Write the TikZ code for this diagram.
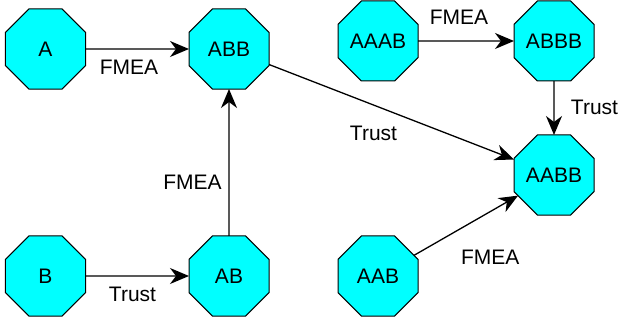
\documentclass[tikz,border=0pt]{standalone}
\usepackage{fontspec}
\setmainfont{Liberation Sans}
\usetikzlibrary{shapes.geometric,arrows.meta}

\definecolor{statefill}{RGB}{0,255,255}

\tikzset{
  state/.style={regular polygon, regular polygon sides=8, minimum size=86.6pt,
    inner sep=0pt, outer sep=0pt, draw=black, line width=1pt, fill=statefill,
    font=\fontsize{21}{25}\selectfont},
  link/.style={line width=1.3pt, -{Stealth[length=19pt, width=16pt, inset=6pt]}},
  lbl/.style={anchor=base, inner sep=0pt, font=\fontsize{21}{25}\selectfont}
}

\begin{document}
\begin{tikzpicture}[x=1pt, y=-1pt]
  \useasboundingbox (0,0) rectangle (620,320);

  % states
  \node[state] (A)    at (45.5,49)  {A};
  \node[state] (ABB)  at (229,49)   {ABB};
  \node[state] (AAAB) at (378,41)   {AAAB};
  \node[state] (ABBB) at (554,41)   {ABBB};
  \node[state] (AABB) at (554,175)  {AABB};
  \node[state] (B)    at (45.5,276) {B};
  \node[state] (AB)   at (229,276)  {AB};
  \node[state] (AAB)  at (378,276)  {AAB};

  % transitions
  \draw[link] (A) -- (ABB);
  \draw[link] (AAAB) -- (ABBB);
  \draw[link] (ABBB) -- (AABB);
  \draw[link] (ABB) -- (AABB);
  \draw[link] (AB) -- (ABB);
  \draw[link] (B) -- (AB);
  \draw[link] (AAB) -- (AABB);

  % transition labels
  \node[lbl] (l1) at (129,75)    {FMEA};
  \node[lbl] (l2) at (459,25)    {FMEA};
  \node[lbl] (l3) at (594.5,115) {Trust};
  \node[lbl] (l4) at (373.5,141) {Trust};
  \node[lbl] (l5) at (192.5,190) {FMEA};
  \node[lbl] (l6) at (132.5,301.5) {Trust};
  \node[lbl] (l7) at (490.3,264) {FMEA};
\end{tikzpicture}
\end{document}
